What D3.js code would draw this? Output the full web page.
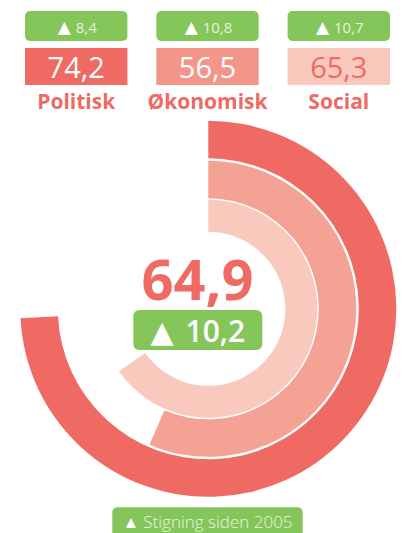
<!DOCTYPE html>
<html>
<head>
<meta charset="utf-8">
<script src="https://cdn.jsdelivr.net/npm/d3@7"></script>
<style>
  body { margin: 0; background: #fff; }
  text { font-family: "Open Sans", "Noto Sans", sans-serif; }
</style>
</head>
<body>
<script>
var width = 406;
var height = 533;

// data
var categories = ["Politisk", "Økonomisk", "Social"];
var values = [74.2, 56.5, 65.3];
var changes = [8.4, 10.8, 10.7];
var total = 64.9;
var totalChange = 10.2;
var footnote = "Stigning siden 2005";

var ringColors = ["#ef6a63", "#f4a294", "#f8c9bc"];
var boxColors = ["#ef6a63", "#f4958a", "#f9c8bc"];
var boxTextColors = ["#fff", "#fff", "#ef6a63"];
var green = "#85c65b";
var red = "#ef6a63";

var fmt = function(v) { return v.toFixed(1).replace(".", ","); };

var svg = d3.select("body").append("svg")
  .attr("width", width)
  .attr("height", height);

// ring geometry: [inner, outer] radius per category
var radii = [[150.5, 188], [110.5, 148], [77, 109]];
var cx = 208.3;
var cy = 308.8;

var angle = d3.scaleLinear().domain([0, 100]).range([0, 2 * Math.PI]);
var arc = d3.arc();

var rings = svg.append("g")
  .attr("transform", "translate(" + cx + "," + cy + ")");

rings.selectAll("path")
  .data(values)
  .enter()
    .append("path")
    .attr("fill", (d, i) => ringColors[i])
    .attr("d", (d, i) => arc({
      innerRadius: radii[i][0],
      outerRadius: radii[i][1],
      startAngle: 0,
      endAngle: angle(d)
    }));

// top boxes
var x = d3.scaleBand()
  .domain(categories)
  .range([25, 390])
  .paddingInner(0.22);

var header = svg.append("g");
var cols = header.selectAll("g")
  .data(categories)
  .enter()
    .append("g")
    .attr("transform", d => "translate(" + x(d) + ",0)");

cols.append("rect")
  .attr("x", 0)
  .attr("y", 11)
  .attr("width", x.bandwidth())
  .attr("height", 30)
  .attr("rx", 5)
  .attr("fill", green);

var badge = cols.append("text")
  .attr("x", x.bandwidth() / 2 + 1)
  .attr("y", 33.3)
  .attr("text-anchor", "middle")
  .style("font-size", "15px");
badge.append("tspan")
  .attr("fill", "#fff")
  .style("font-family", "DejaVu Sans")
  .style("font-size", "17px")
  .text("▲");
badge.append("tspan")
  .attr("fill", "#e6f3dc")
  .attr("dx", 5)
  .style("font-weight", 400)
  .text((d, i) => fmt(changes[i]));

cols.append("rect")
  .attr("x", 0)
  .attr("y", 48)
  .attr("width", x.bandwidth())
  .attr("height", 37)
  .attr("fill", (d, i) => boxColors[i]);

cols.append("text")
  .attr("x", x.bandwidth() / 2)
  .attr("y", 78.3)
  .attr("text-anchor", "middle")
  .attr("fill", (d, i) => boxTextColors[i])
  .style("font-size", "29px")
  .style("font-weight", 400)
  .text((d, i) => fmt(values[i]));

cols.append("text")
  .attr("x", x.bandwidth() / 2)
  .attr("y", 109)
  .attr("text-anchor", "middle")
  .attr("fill", red)
  .style("font-size", "21px")
  .style("font-weight", 700)
  .text(d => d);

// center total
svg.append("text")
  .attr("x", 197.5)
  .attr("y", 300)
  .attr("text-anchor", "middle")
  .attr("fill", red)
  .style("font-size", "56px")
  .style("font-weight", 700)
  .text(fmt(total));

svg.append("rect")
  .attr("x", 133.3)
  .attr("y", 310)
  .attr("width", 129)
  .attr("height", 40)
  .attr("rx", 6)
  .attr("fill", green);

var totalBadge = svg.append("text")
  .attr("x", 197.8)
  .attr("y", 341.7)
  .attr("text-anchor", "middle")
  .attr("fill", "#fff")
  .style("font-size", "30px")
  .style("font-weight", 600);
totalBadge.append("tspan")
  .style("font-family", "DejaVu Sans")
  .style("font-size", "30px")
  .text("▲");
totalBadge.append("tspan")
  .attr("dx", 12)
  .text(fmt(totalChange));

// footnote badge
svg.append("rect")
  .attr("x", 112.3)
  .attr("y", 507.3)
  .attr("width", 190.4)
  .attr("height", 40)
  .attr("rx", 5)
  .attr("fill", green);

var foot = svg.append("text")
  .attr("x", 207.5)
  .attr("y", 528.3)
  .attr("text-anchor", "middle")
  .attr("fill", "#fff")
  .style("font-size", "17px")
  .style("font-weight", 300);
foot.append("tspan")
  .style("font-family", "DejaVu Sans")
  .style("font-size", "17px")
  .text("▲");
foot.append("tspan")
  .attr("fill", "#eaf5e2")
  .attr("dx", 4)
  .text(footnote);
</script>
</body>
</html>
